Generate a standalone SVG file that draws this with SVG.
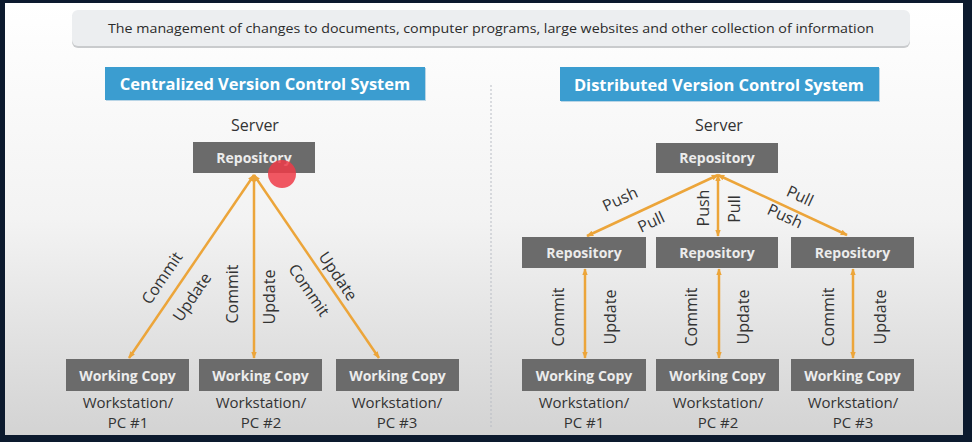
<svg xmlns="http://www.w3.org/2000/svg" width="972" height="442" viewBox="0 0 972 442">
<defs>
<linearGradient id="bg" x1="0" y1="0" x2="0" y2="1">
<stop offset="0" stop-color="#ffffff"/>
<stop offset="0.5" stop-color="#f3f3f3"/>
<stop offset="1" stop-color="#d3d3d3"/>
</linearGradient>
<marker id="ah" viewBox="0 0 10 10" refX="9" refY="5" markerWidth="7" markerHeight="7" orient="auto-start-reverse" markerUnits="userSpaceOnUse">
<path d="M0,1 L10,5 L0,9 z" fill="#eca53a"/>
</marker>
<style>
.box{fill:#6b6b6b;}
.boxt{font-family:"Open Sans","DejaVu Sans",sans-serif;font-weight:bold;font-size:14px;fill:#ececec;text-anchor:middle;}
.title{fill:#3b9dd0;}
.titlet{font-family:"Open Sans","DejaVu Sans",sans-serif;font-weight:bold;font-size:16.5px;fill:#ffffff;text-anchor:middle;}
.lbl{font-family:"Open Sans","DejaVu Sans",sans-serif;font-size:16px;fill:#333333;text-anchor:middle;}
.ws{font-family:"Open Sans","DejaVu Sans",sans-serif;font-size:15px;fill:#333333;text-anchor:middle;}
.conn{stroke:#eca53a;stroke-width:2.5;fill:none;marker-start:url(#ah);marker-end:url(#ah);}
</style>
</defs>
<rect x="0" y="0" width="972" height="442" fill="#0c1a2e"/>
<rect x="5" y="3" width="958" height="432" fill="url(#bg)"/>

<g id="banner">
<rect x="72" y="12" width="838" height="36" rx="6" fill="#c9cbcd"/>
<rect x="72" y="10" width="838" height="36" rx="6" fill="#eceef0"/>
<text x="491" y="33" font-family="'Open Sans','DejaVu Sans',sans-serif" font-size="13.5" fill="#2b2b2b" text-anchor="middle" textLength="766" lengthAdjust="spacingAndGlyphs">The management of changes to documents, computer programs, large websites and other collection of information</text>
</g>

<line x1="491" y1="85" x2="491" y2="428" stroke="#b8bcc4" stroke-width="1" stroke-dasharray="2,2"/>

<g id="title-left">
<rect x="106" y="68" width="320" height="33" fill="#b9d5e6"/>
<rect x="105" y="67" width="320" height="33" class="title"/>
<text x="265" y="89.5" class="titlet">Centralized Version Control System</text>
</g>
<g id="title-right">
<rect x="561" y="68" width="319" height="34" fill="#b9d5e6"/>
<rect x="560" y="67" width="319" height="34" class="title"/>
<text x="719" y="90.5" class="titlet">Distributed Version Control System</text>
</g>

<g id="connectors">
<line class="conn" x1="254" y1="175" x2="129" y2="358"/>
<line class="conn" x1="254" y1="175" x2="254" y2="358"/>
<line class="conn" x1="254" y1="175" x2="379" y2="358"/>
<line class="conn" x1="718" y1="175" x2="587" y2="236"/>
<line class="conn" x1="718" y1="175" x2="718" y2="236"/>
<line class="conn" x1="718" y1="175" x2="847" y2="235"/>
<line class="conn" x1="585" y1="269" x2="585" y2="358"/>
<line class="conn" x1="719" y1="269" x2="719" y2="358"/>
<line class="conn" x1="853" y1="269" x2="853" y2="358"/>
</g>

<g id="connector-labels">
<text class="lbl" transform="translate(162,278) rotate(-55.8)" dy="0.35em">Commit</text>
<text class="lbl" transform="translate(192,297) rotate(-55.8)" dy="0.35em">Update</text>
<text class="lbl" transform="translate(232,294) rotate(-90)" dy="0.35em">Commit</text>
<text class="lbl" transform="translate(269,297) rotate(-90)" dy="0.35em">Update</text>
<text class="lbl" transform="translate(309,290) rotate(56)" dy="0.35em">Commit</text>
<text class="lbl" transform="translate(338,276) rotate(56)" dy="0.35em">Update</text>

<text class="lbl" transform="translate(620,199) rotate(-25)" dy="0.35em">Push</text>
<text class="lbl" transform="translate(651,222) rotate(-25)" dy="0.35em">Pull</text>
<text class="lbl" transform="translate(703,208) rotate(-90)" dy="0.35em">Push</text>
<text class="lbl" transform="translate(734,209) rotate(-90)" dy="0.35em">Pull</text>
<text class="lbl" transform="translate(800,196) rotate(24.7)" dy="0.35em">Pull</text>
<text class="lbl" transform="translate(785,216) rotate(24.7)" dy="0.35em">Push</text>

<text class="lbl" transform="translate(558,317) rotate(-90)" dy="0.35em">Commit</text>
<text class="lbl" transform="translate(610,317) rotate(-90)" dy="0.35em">Update</text>
<text class="lbl" transform="translate(691,317) rotate(-90)" dy="0.35em">Commit</text>
<text class="lbl" transform="translate(743,317) rotate(-90)" dy="0.35em">Update</text>
<text class="lbl" transform="translate(828,317) rotate(-90)" dy="0.35em">Commit</text>
<text class="lbl" transform="translate(880,317) rotate(-90)" dy="0.35em">Update</text>
</g>

<g id="server-left">
<text x="255" y="131" class="lbl">Server</text>
<rect x="193" y="142" width="122" height="31" class="box"/>
<text x="254" y="162.5" class="boxt">Repository</text>
</g>
<g id="wc-left-1">
<rect x="66" y="359" width="123" height="32" class="box"/>
<text x="127.5" y="380.5" class="boxt">Working Copy</text>
<text x="128" y="407.5" class="ws">Workstation/</text>
<text x="128" y="428" class="ws">PC #1</text>
</g>
<g id="wc-left-2">
<rect x="199" y="359" width="123" height="32" class="box"/>
<text x="260.5" y="380.5" class="boxt">Working Copy</text>
<text x="261" y="407.5" class="ws">Workstation/</text>
<text x="261" y="428" class="ws">PC #2</text>
</g>
<g id="wc-left-3">
<rect x="336" y="359" width="123" height="32" class="box"/>
<text x="397.5" y="380.5" class="boxt">Working Copy</text>
<text x="397" y="407.5" class="ws">Workstation/</text>
<text x="397" y="428" class="ws">PC #3</text>
</g>

<g id="server-right">
<text x="719" y="131" class="lbl">Server</text>
<rect x="656" y="143" width="122" height="30" class="box"/>
<text x="717" y="162.5" class="boxt">Repository</text>
</g>
<g id="repo-right-1">
<rect x="522" y="237" width="124" height="31" class="box"/>
<text x="584" y="257.5" class="boxt">Repository</text>
</g>
<g id="repo-right-2">
<rect x="656" y="237" width="122" height="31" class="box"/>
<text x="717" y="257.5" class="boxt">Repository</text>
</g>
<g id="repo-right-3">
<rect x="791" y="237" width="123" height="31" class="box"/>
<text x="852.5" y="257.5" class="boxt">Repository</text>
</g>
<g id="wc-right-1">
<rect x="522" y="359" width="124" height="32" class="box"/>
<text x="584" y="380.5" class="boxt">Working Copy</text>
<text x="584" y="407.5" class="ws">Workstation/</text>
<text x="584" y="428" class="ws">PC #1</text>
</g>
<g id="wc-right-2">
<rect x="656" y="359" width="123" height="32" class="box"/>
<text x="717.5" y="380.5" class="boxt">Working Copy</text>
<text x="718" y="407.5" class="ws">Workstation/</text>
<text x="718" y="428" class="ws">PC #2</text>
</g>
<g id="wc-right-3">
<rect x="791" y="359" width="123" height="32" class="box"/>
<text x="852.5" y="380.5" class="boxt">Working Copy</text>
<text x="853" y="407.5" class="ws">Workstation/</text>
<text x="853" y="428" class="ws">PC #3</text>
</g>

<circle cx="282" cy="174" r="14" fill="#ee3b48" opacity="0.85"/>
</svg>
